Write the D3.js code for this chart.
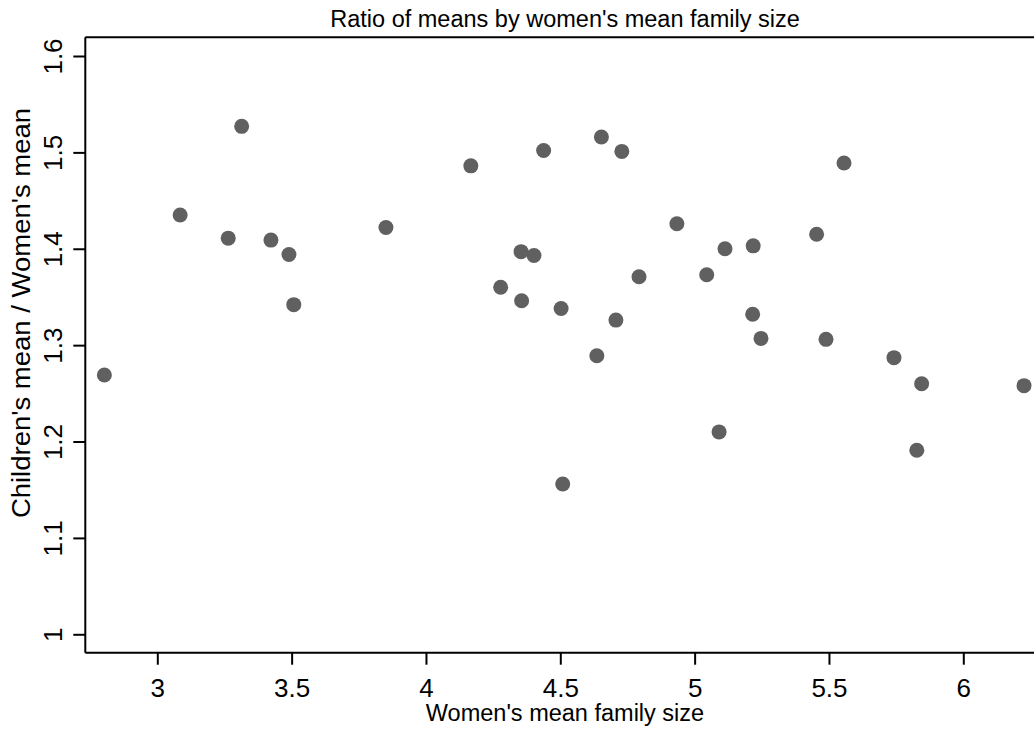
<!DOCTYPE html>
<html>
<head>
<meta charset="utf-8">
<script src="https://cdn.jsdelivr.net/npm/d3@7"></script>
<style>
  html, body { margin: 0; padding: 0; background: #fff; }
  svg { display: block; font-family: "Liberation Sans", Arial, sans-serif; }
</style>
</head>
<body>
<svg id="chart" width="1034" height="732"></svg>
<script>
// Data: women's mean family size (x) vs ratio children's mean / women's mean (y)
const familySize = [2.803, 3.085, 3.264, 3.314, 3.423, 3.490, 3.508, 3.851, 4.167, 4.278,
  4.354, 4.356, 4.402, 4.438, 4.503, 4.509, 4.636, 4.653, 4.707, 4.729,
  4.793, 4.934, 5.045, 5.091, 5.113, 5.218, 5.216, 5.247, 5.454, 5.489,
  5.556, 5.742, 5.827, 5.845, 6.226];
const ratioOfMeans = [1.269, 1.435, 1.411, 1.527, 1.409, 1.394, 1.342, 1.422, 1.486, 1.360,
  1.397, 1.346, 1.393, 1.502, 1.338, 1.156, 1.289, 1.516, 1.326, 1.501,
  1.371, 1.426, 1.373, 1.210, 1.400, 1.403, 1.332, 1.307, 1.415, 1.306,
  1.489, 1.287, 1.191, 1.260, 1.258];
const xTicks = [3, 3.5, 4, 4.5, 5, 5.5, 6];
const yTicks = [1, 1.1, 1.2, 1.3, 1.4, 1.5, 1.6];
const titleText = "Ratio of means by women's mean family size";
const xTitle = "Women's mean family size";
const yTitle = "Children's mean / Women's mean";

const svg = d3.select("#chart");
const mLeft = 85.3, mRight = 1044.7, mTop = 37.3, mBottom = 652.7;

const x = d3.scaleLinear().domain([2.732, 6.303]).range([mLeft, mRight]);
const y = d3.scaleLinear().domain([0.9809, 1.6194]).range([mBottom, mTop]);

// points
svg.append("g").selectAll("circle")
  .data(familySize.map((v, i) => [v, ratioOfMeans[i]]))
  .join("circle")
  .attr("cx", d => x(d[0]))
  .attr("cy", d => y(d[1]))
  .attr("r", 7.5)
  .attr("fill", "#606060");

// top frame line
svg.append("line")
  .attr("x1", mLeft).attr("x2", mRight)
  .attr("y1", mTop).attr("y2", mTop)
  .attr("stroke", "#000").attr("stroke-width", 2);

// x axis
const gx = svg.append("g")
  .attr("transform", `translate(0,${mBottom})`)
  .call(d3.axisBottom(x).tickValues(xTicks).tickSize(12).tickPadding(14)
    .tickFormat(d3.format("")));
gx.select(".domain").attr("stroke-width", 2).attr("d", `M${mLeft},0H${mRight}`);
gx.selectAll(".tick line").attr("stroke-width", 2);
gx.selectAll(".tick text").attr("font-size", 26).attr("fill", "#000")
  .attr("font-family", "Liberation Sans, Arial, sans-serif");

// y axis
const gy = svg.append("g")
  .attr("transform", `translate(${mLeft},0)`)
  .call(d3.axisLeft(y).tickValues(yTicks).tickSize(12).tickPadding(0)
    .tickFormat(d3.format("")));
gy.select(".domain").attr("stroke-width", 2).attr("d", `M0,${mTop}V${mBottom}`);
gy.selectAll(".tick line").attr("stroke-width", 2);
gy.selectAll(".tick text")
  .attr("font-size", 26).attr("fill", "#000")
  .attr("font-family", "Liberation Sans, Arial, sans-serif")
  .attr("x", null).attr("dy", null)
  .attr("text-anchor", "middle")
  .attr("transform", "translate(-23.5,0) rotate(-90)");

// title
svg.append("text")
  .attr("x", (mLeft + mRight) / 2).attr("y", 26.7)
  .attr("text-anchor", "middle").attr("font-size", 23.5)
  .text(titleText);

// x title
svg.append("text")
  .attr("x", (mLeft + mRight) / 2).attr("y", 721)
  .attr("text-anchor", "middle").attr("font-size", 23.5)
  .text(xTitle);

// y title
svg.append("text")
  .attr("transform", `translate(30,313) rotate(-90) scale(1.1,1)`)
  .attr("text-anchor", "middle").attr("font-size", 25)
  .text(yTitle);
</script>
</body>
</html>
